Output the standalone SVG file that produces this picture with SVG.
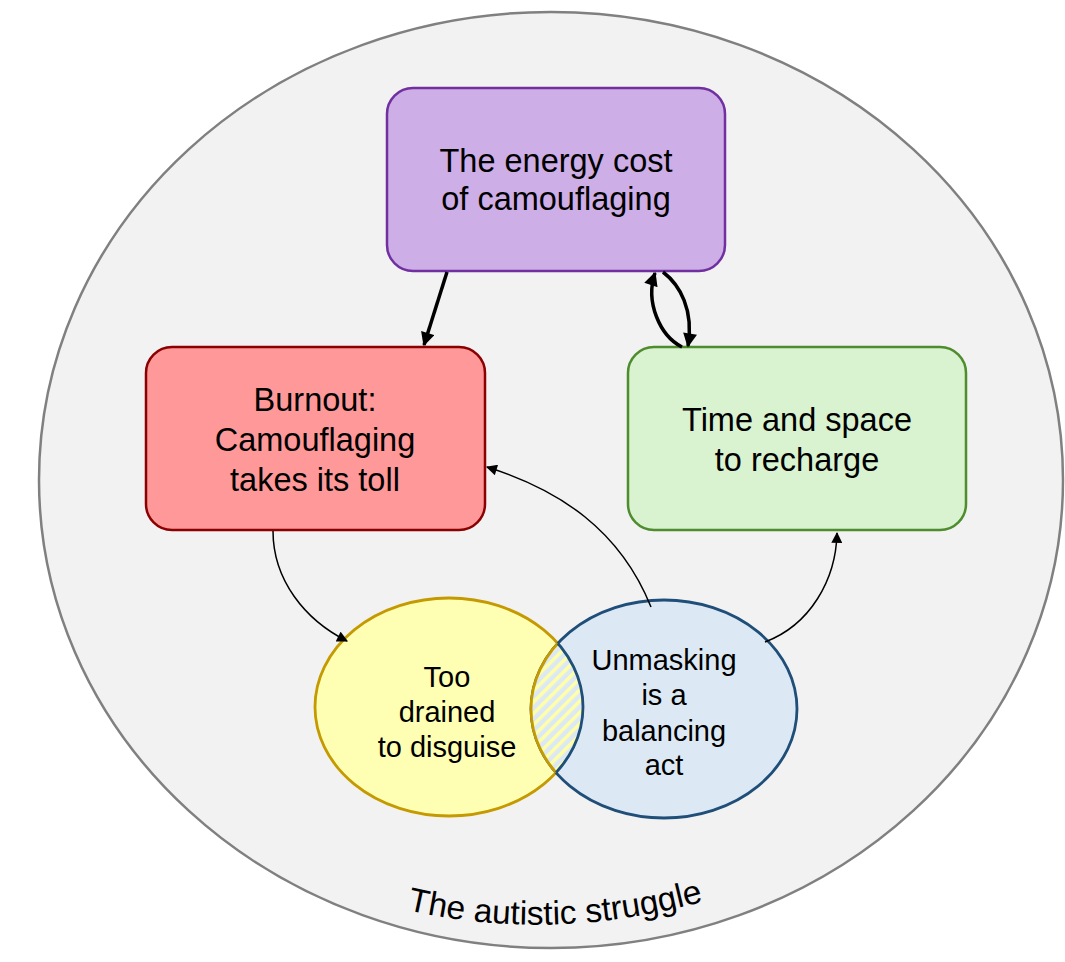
<svg xmlns="http://www.w3.org/2000/svg" width="1065" height="962" viewBox="0 0 1065 962">
<style>
.t{font-family:"Liberation Sans",Arial,sans-serif;font-size:32.5px;fill:#000;text-anchor:middle}
.s{font-family:"Liberation Sans",Arial,sans-serif;font-size:29px;fill:#000;text-anchor:middle}
.thick{fill:none;stroke:#000;stroke-width:3.5}
.thin{fill:none;stroke:#000;stroke-width:1.5}
</style>
<defs>
<marker id="ahB" viewBox="0 0 10 10" refX="9" refY="5" markerWidth="15" markerHeight="14" markerUnits="userSpaceOnUse" orient="auto"><path d="M0,0 L10,5 L0,10 z" fill="#000"/></marker>
<marker id="ahS" viewBox="0 0 10 10" refX="9" refY="5" markerWidth="13" markerHeight="11" markerUnits="userSpaceOnUse" orient="auto"><path d="M0,0 L10,5 L0,10 z" fill="#000"/></marker>
<pattern id="hatch" width="8" height="8" patternUnits="userSpaceOnUse" patternTransform="rotate(45)">
<rect width="8" height="8" fill="#dce9f5"/>
<rect width="3.5" height="8" fill="#ffffa8"/>
</pattern>
<clipPath id="clipY"><ellipse cx="449" cy="707" rx="134" ry="109"/></clipPath>
<clipPath id="clipB"><ellipse cx="664" cy="709" rx="133" ry="109"/></clipPath>
<path id="arcText" d="M360,897 Q548,957 750,887"/>
</defs>
<rect width="1065" height="962" fill="#fff"/>
<g id="struggle">
<ellipse cx="551" cy="480" rx="512" ry="468" fill="#f2f2f2" stroke="#808080" stroke-width="2.5"/>
<text class="t" style="font-size:33.5px"><textPath href="#arcText" startOffset="50%">The autistic struggle</textPath></text>
</g>
<g id="energy">
<rect x="387" y="88" width="338" height="183" rx="26" fill="#ceaee6" stroke="#7030a0" stroke-width="2.5"/>
<text class="t" x="556" y="172">The energy cost</text>
<text class="t" x="556" y="210">of camouflaging</text>
</g>
<g id="burnout">
<rect x="146" y="347" width="339" height="183" rx="26" fill="#ff9999" stroke="#8b0000" stroke-width="2.5"/>
<text class="t" x="315" y="411">Burnout:</text>
<text class="t" x="315" y="451">Camouflaging</text>
<text class="t" x="315" y="491">takes its toll</text>
</g>
<g id="recharge">
<rect x="628" y="347" width="338" height="183" rx="26" fill="#d9f2d0" stroke="#4e8c2e" stroke-width="2.5"/>
<text class="t" x="797" y="431">Time and space</text>
<text class="t" x="797" y="471">to recharge</text>
</g>
<g id="drained">
<ellipse cx="449" cy="707" rx="134" ry="109" fill="#ffffb3" stroke="#c49a00" stroke-width="2.8"/>
</g>
<g id="unmasking">
<ellipse cx="664" cy="709" rx="133" ry="109" fill="#dce9f5" stroke="#1f4e79" stroke-width="2.8"/>
</g>
<g id="overlap">
<ellipse cx="664" cy="709" rx="133" ry="109" fill="url(#hatch)" clip-path="url(#clipY)"/>
<ellipse cx="664" cy="709" rx="133" ry="109" fill="none" stroke="#c49a00" stroke-width="2.8" clip-path="url(#clipY)"/>
<ellipse cx="449" cy="707" rx="134" ry="109" fill="none" stroke="#1f4e79" stroke-width="2.8" clip-path="url(#clipB)"/>
</g>
<g id="labels">
<text class="s" x="447" y="687">Too</text>
<text class="s" x="447" y="722">drained</text>
<text class="s" x="447" y="757">to disguise</text>
<text class="s" x="664" y="670">Unmasking</text>
<text class="s" x="664" y="705">is a</text>
<text class="s" x="664" y="741">balancing</text>
<text class="s" x="664" y="775">act</text>
</g>
<g id="connectors">
<path class="thick" d="M447,272 L424,345" marker-end="url(#ahB)"/>
<path class="thick" d="M682,347 C660,336 645,302 655,273" marker-end="url(#ahB)"/>
<path class="thick" d="M663,272 C680,285 694,310 688,346" marker-end="url(#ahB)"/>
<path class="thin" d="M273,531 C273,580 305,620 347,641" marker-end="url(#ahS)"/>
<path class="thin" d="M651,607 C620,530 560,490 487,467" marker-end="url(#ahS)"/>
<path class="thin" d="M765,642 C810,625 836,580 837,533" marker-end="url(#ahS)"/>
</g>
</svg>
